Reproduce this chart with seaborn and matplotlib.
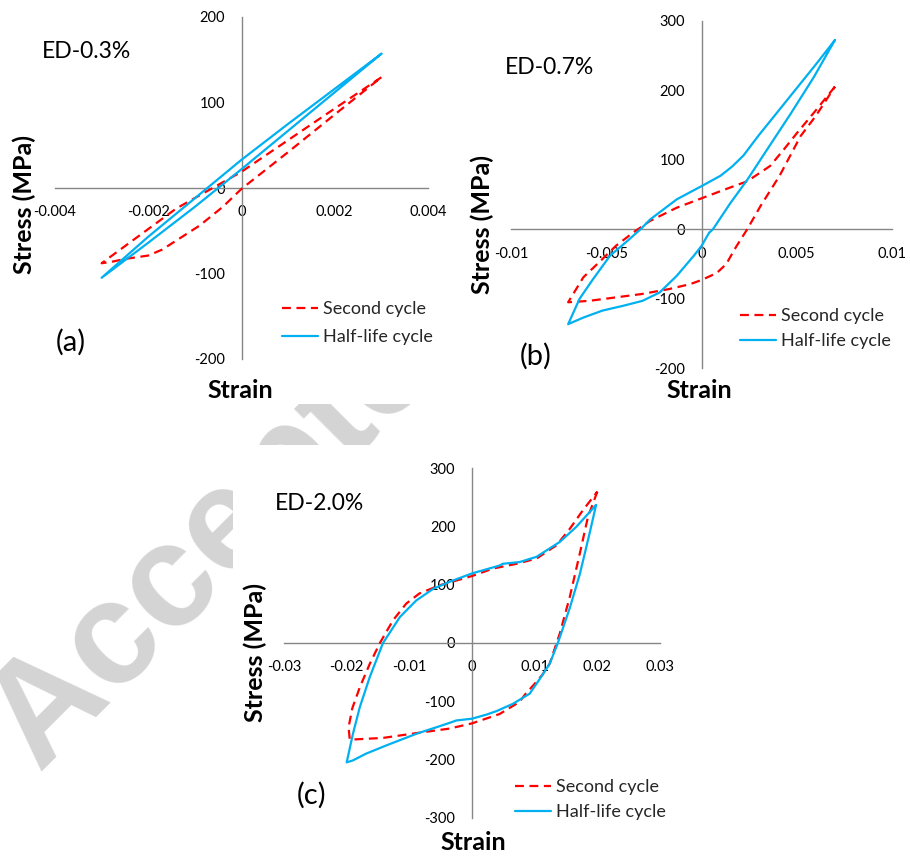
import matplotlib
matplotlib.use("Agg")
import matplotlib.pyplot as plt
from matplotlib.patches import Rectangle
from matplotlib.lines import Line2D
import pandas as pd
import seaborn as sns

# ---------------- data ----------------
# (a) ED-0.3 %
a_second_strain = [0.003, 0.002, 0.001, 0.0, -0.0007, -0.0014, -0.002, -0.0025, -0.003,
                   -0.0028, -0.0025, -0.002, -0.0017, -0.0013, -0.0009, -0.0004, 0.0, 0.001, 0.002, 0.003]
a_second_stress = [129.5, 93, 56, 19, -2.5, -24, -48, -68, -88,
                   -86.5, -83, -79, -72, -58, -44, -22, -1, 42, 86, 129.5]
a_half_strain = [0.003, 0.002, 0.001, 0.0, -0.001, -0.002, -0.003,
                 -0.002, -0.001, 0.0, 0.001, 0.002, 0.003]
a_half_stress = [157, 116, 75, 33, -12, -57, -105,
                 -64, -22, 22, 67, 112, 157]

# (b) ED-0.7 %
b_second_strain = [0.007, 0.006, 0.005, 0.0043, 0.0036, 0.0024, 0.0015, 0.0, -0.0013, -0.0027, -0.0036,
                   -0.0045, -0.0053, -0.0062, -0.0068, -0.007,
                   -0.0059, -0.0045, -0.0031, -0.0017, -0.0006, 0.0, 0.0008, 0.0013, 0.0018, 0.0024,
                   0.0031, 0.0041, 0.0052, 0.006, 0.007]
b_second_stress = [205, 171, 138, 114, 91, 69, 60, 44.5, 31, 12, -5,
                   -24, -45.5, -69, -96, -105,
                   -103, -98, -93, -86, -79, -73, -63, -50, -26, 0,
                   33.5, 77, 134, 163, 205]
b_half_strain = [0.007, 0.006, 0.005, 0.004, 0.003, 0.0022, 0.0016, 0.001, 0.0, -0.0013, -0.0027, -0.0032,
                 -0.0039, -0.0048, -0.0057, -0.0064, -0.007,
                 -0.0062, -0.0052, -0.0041, -0.0031, -0.0022, -0.0013, -0.0004, 0.0, 0.0004, 0.0006,
                 0.0015, 0.0024, 0.0035, 0.0047, 0.0059, 0.007]
b_half_stress = [272, 237, 203, 169, 135, 106, 90, 77, 62, 43, 14, 0,
                 -17, -38, -72, -100, -136.5,
                 -127, -117, -110, -103, -91, -67, -38, -24, -5, 0,
                 37, 71, 117, 167, 219, 272]

# (c) ED-2.0 %
c_second_strain = [0.02, 0.0185, 0.0172, 0.0156, 0.014, 0.0132, 0.0124, 0.0112, 0.01, 0.0085, 0.0076,
                   0.0044, 0.0, -0.0036, -0.0084, -0.0142, -0.0195,
                   -0.0197, -0.0191, -0.0179, -0.0163, -0.0147, -0.0126, -0.0105, -0.0084, -0.0052,
                   0.0, 0.0034, 0.0071, 0.0103, 0.0135, 0.0156, 0.0177, 0.02]
c_second_stress = [260, 216.5, 153.5, 79, 16, -9.7, -35.5, -55, -70, -88, -101,
                   -122, -138, -147, -154, -163, -166,
                   -145, -112, -76, -35.5, 0, 39, 67.6, 85, 99,
                   115, 128, 136, 145, 168, 196, 228, 260]
c_half_strain = [0.0198, 0.0188, 0.0172, 0.0156, 0.0137, 0.0124, 0.0108, 0.0092, 0.0065, 0.0039,
                 0.0023, 0.0, -0.0025, -0.003, -0.0052, -0.0089, -0.0137, -0.0169, -0.019, -0.02,
                 -0.019, -0.0179, -0.0163, -0.0142, -0.0115, -0.0089, -0.0062, -0.0036, 0.0,
                 0.0044, 0.0049, 0.0076, 0.0103, 0.014, 0.0166, 0.0198]
c_half_stress = [237, 190, 118, 60, 0, -35.5, -62, -87, -104.6, -117,
                 -123, -130, -133, -135, -143, -156, -176, -190, -201.6, -205,
                 -156, -110, -58, 0, 44.7, 73, 93, 105, 119.5,
                 133, 136, 139, 148, 173.5, 199, 237]

series_labels = ["Second cycle", "Half-life cycle"]
panel_titles = ["ED-0.3%", "ED-0.7%", "ED-2.0%"]
panel_letters = ["(a)", "(b)", "(c)"]

a_xticks = [-0.004, -0.002, 0, 0.002, 0.004]
a_xlabels = ["-0.004", "-0.002", "0", "0.002", "0.004"]
a_yticks = [-200, -100, 0, 100, 200]
a_ylabels = ["-200", "-100", "0", "100", "200"]

b_xticks = [-0.01, -0.005, 0, 0.005, 0.01]
b_xlabels = ["-0.01", "-0.005", "0", "0.005", "0.01"]
b_yticks = [-200, -100, 0, 100, 200, 300]
b_ylabels = ["-200", "-100", "0", "100", "200", "300"]

c_xticks = [-0.03, -0.02, -0.01, 0, 0.01, 0.02, 0.03]
c_xlabels = ["-0.03", "-0.02", "-0.01", "0", "0.01", "0.02", "0.03"]
c_yticks = [-300, -200, -100, 0, 100, 200, 300]
c_ylabels = ["-300", "-200", "-100", "0", "100", "200", "300"]

# ---------------- style ----------------
sns.set_style("white")
plt.rcParams["font.family"] = ["Lato", "DejaVu Sans"]

RED = "#FF0000"
BLUE = "#00B0F0"
AXIS = "#868686"
DASH = (0, (4, 2.5))
LW = 1.6

W, H = 910, 857
fig = plt.figure(figsize=(W / 100, H / 100), dpi=100)


def fx(px):
    return px / W


def fy(py):
    return 1 - py / H


# faint diagonal stamp behind the panels
fig.text(fx(38), fy(772), "Accepted", rotation=45, rotation_mode="anchor",
         ha="left", va="baseline", fontsize=105, fontweight="bold", color="#d4d4d4",
         family="Liberation Sans", zorder=-3)

# white backing of each panel
for (x0, y0, x1, y1) in [(0, 0, 450, 404), (450, 0, 910, 404), (233, 445, 692, 857)]:
    fig.add_artist(Rectangle((fx(x0), fy(y1)), (x1 - x0) / W, (y1 - y0) / H,
                             transform=fig.transFigure, facecolor="white",
                             edgecolor="none", zorder=-2))

panels = [
    dict(rect=(55, 17, 428, 359), xlim=(-0.004, 0.004), ylim=(-200, 200),
         xticks=a_xticks, xlabels=a_xlabels, yticks=a_yticks, ylabels=a_ylabels,
         second=(a_second_strain, a_second_stress), half=(a_half_strain, a_half_stress),
         title=(42, 52), letter=(71, 342), ylab=(24, 204), xlab=(240, 390),
         legend=(282, 323, 0.68)),
    dict(rect=(511, 20.7, 892, 368.3), xlim=(-0.01, 0.01), ylim=(-200, 300),
         xticks=b_xticks, xlabels=b_xlabels, yticks=b_yticks, ylabels=b_ylabels,
         second=(b_second_strain, b_second_stress), half=(b_half_strain, b_half_stress),
         title=(505, 68), letter=(536, 356), ylab=(482, 224), xlab=(699, 390),
         legend=(740, 328.5, 0.51)),
    dict(rect=(284, 468.3, 660, 817.7), xlim=(-0.03, 0.03), ylim=(-300, 300),
         xticks=c_xticks, xlabels=c_xlabels, yticks=c_yticks, ylabels=c_ylabels,
         second=(c_second_strain, c_second_stress), half=(c_half_strain, c_half_stress),
         title=(275, 503), letter=(312, 795), ylab=(255, 652), xlab=(473, 843),
         legend=(515, 799.5, 0.51)),
]

for i, p in enumerate(panels):
    x0, y0, x1, y1 = p["rect"]
    ax = fig.add_axes([fx(x0), fy(y1), (x1 - x0) / W, (y1 - y0) / H])
    ax.set_facecolor("none")

    df2 = pd.DataFrame({"strain": p["second"][0], "stress": p["second"][1]})
    dfh = pd.DataFrame({"strain": p["half"][0], "stress": p["half"][1]})
    sns.lineplot(data=df2, x="strain", y="stress", sort=False, estimator=None,
                 color=RED, linewidth=LW, linestyle=DASH, ax=ax, zorder=3)
    sns.lineplot(data=dfh, x="strain", y="stress", sort=False, estimator=None,
                 color=BLUE, linewidth=LW, ax=ax, zorder=4)

    ax.set_xlim(*p["xlim"])
    ax.set_ylim(*p["ylim"])
    ax.set_xlabel("")
    ax.set_ylabel("")
    ax.set_xticks(p["xticks"], p["xlabels"])
    ax.set_yticks(p["yticks"], p["ylabels"])

    for s in ("top", "right"):
        ax.spines[s].set_visible(False)
    for s in ("left", "bottom"):
        ax.spines[s].set_position(("data", 0))
        ax.spines[s].set_color(AXIS)
        ax.spines[s].set_linewidth(1.0)
        ax.spines[s].set_zorder(1)
    ax.tick_params(axis="both", length=0, labelsize=10.5, labelcolor="black")
    ax.tick_params(axis="x", pad=12.5)
    ax.tick_params(axis="y", pad=12)
    ax.grid(False)

    fig.text(fx(p["title"][0]), fy(p["title"][1]), panel_titles[i], ha="left",
             va="center", fontsize=16.5, color="black")
    fig.text(fx(p["letter"][0]), fy(p["letter"][1]), panel_letters[i], ha="center",
             va="center", fontsize=21, color="black")
    fig.text(fx(p["ylab"][0]), fy(p["ylab"][1]), "Stress (MPa)", rotation=90,
             ha="center", va="center", fontsize=18, fontweight="bold", color="black")
    fig.text(fx(p["xlab"][0]), fy(p["xlab"][1]), "Strain", ha="center",
             va="center", fontsize=18, fontweight="bold", color="black")

    lx, ly, spacing = p["legend"]
    handles = [Line2D([], [], color=RED, lw=LW, linestyle=DASH),
               Line2D([], [], color=BLUE, lw=LW)]
    fig.legend(handles, series_labels, loc="center left",
               bbox_to_anchor=(fx(lx), fy(ly)), frameon=False, fontsize=13,
               handlelength=2.0, handletextpad=0.25, labelspacing=spacing,
               borderpad=0, borderaxespad=0)

fig.savefig("out.png", dpi=100, facecolor="white")
